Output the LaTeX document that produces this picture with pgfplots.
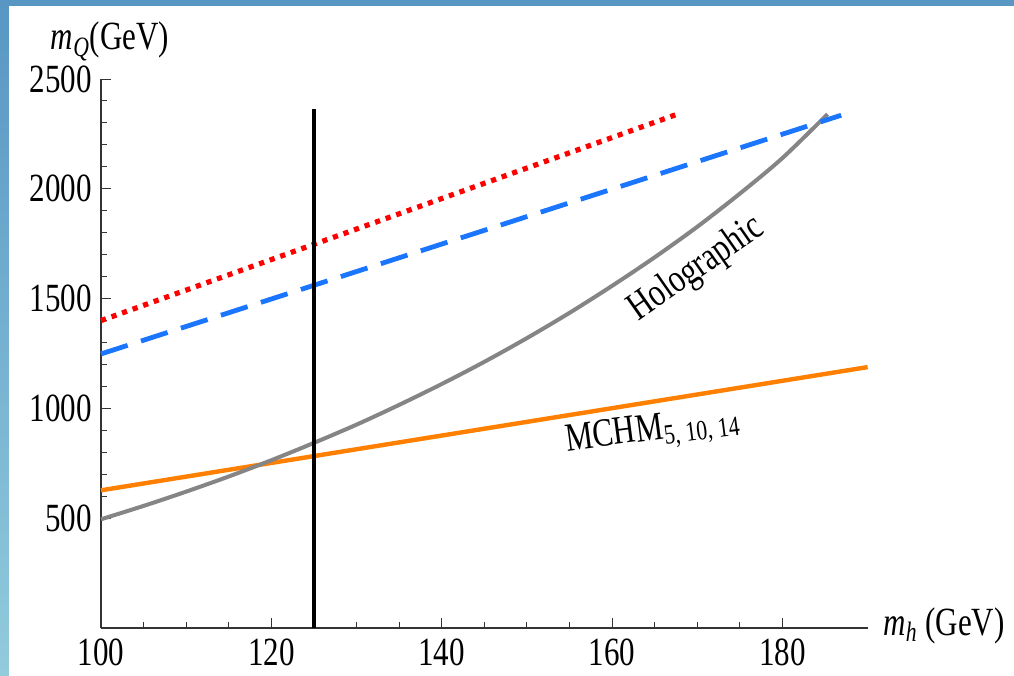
\documentclass[border=0pt]{standalone}
\usepackage{fontspec}
\setmainfont{Liberation Serif}[FakeStretch=0.775]
\usepackage{pgfplots}
\pgfplotsset{compat=1.18}
\definecolor{bgtop}{HTML}{5896C4}
\definecolor{bgbot}{HTML}{92CBDC}
\definecolor{cblue}{HTML}{1A75FF}
\definecolor{corange}{HTML}{FF8000}
\definecolor{cgray}{HTML}{858585}
\begin{document}
\fontsize{20}{24}\selectfont
\begin{tikzpicture}
\shade[top color=bgtop, bottom color=bgbot] (-50.5pt,-24pt) rectangle (456.5pt,314pt);
\fill[white] (-46pt,-24pt) rectangle (456.5pt,311pt);
\path[use as bounding box] (-50.5pt,-24pt) rectangle (456.5pt,314pt);
\begin{axis}[
  at={(0,0)}, anchor=south west,
  scale only axis, width=383.3pt, height=274.5pt,
  xmin=100, xmax=190, ymin=0, ymax=2500,
  axis x line*=bottom, axis y line*=left,
  axis line style={-, line width=0.6pt, black!80},
  every tick/.style={black!80, line width=0.5pt},
  tick align=inside,
  major tick length=5pt, minor tick length=3pt,
  xtick={100,120,140,160,180}, ytick={500,1000,1500,2000,2500},
  minor x tick num=3, minor y tick num=4,
  /pgf/number format/assume math mode=true,
  /pgf/number format/set thousands separator={},
  xticklabel style={anchor=north, inner sep=0pt, yshift=-5pt},
  yticklabel style={anchor=east, inner sep=0pt, xshift=-4.5pt},
  clip=false,
]
\addplot[corange, line width=2.2pt] coordinates {(100,627) (190,1188)};
\addplot[cgray, line width=2pt, smooth] coordinates {
(100,495) (105,556) (110,621) (115,690) (120,764) (125,843) (130,926)
(135,1016) (140,1111) (145,1212) (150,1320) (155,1435) (160,1558)
(165,1688) (170,1827) (175,1978) (180,2140) (185.3,2340)};
\addplot[cblue, line width=2.4pt, dash pattern=on 14pt off 7pt] coordinates {(100,1248) (186.9,2335)};
\addplot[red, line width=2.6pt, dash pattern=on 2.6pt off 3pt] coordinates {(100,1400) (167.6,2339)};
\addplot[black, line width=1.7pt] coordinates {(125,0) (125,2363)};
\node[rotate=35] at (axis cs:169.9,1633) {Holographic};
\node[rotate=7.5] at (axis cs:164.8,893) {MCHM\textsubscript{5, 10, 14}};
\end{axis}
\node[anchor=base] at (4.5pt,289pt) {\textit{m}\textsubscript{\textit{Q}}(GeV)};
\node[anchor=base west, inner sep=0pt] at (391pt,-3.5pt) {\textit{m}\textsubscript{\textit{h}} (GeV)};
\end{tikzpicture}
\end{document}
